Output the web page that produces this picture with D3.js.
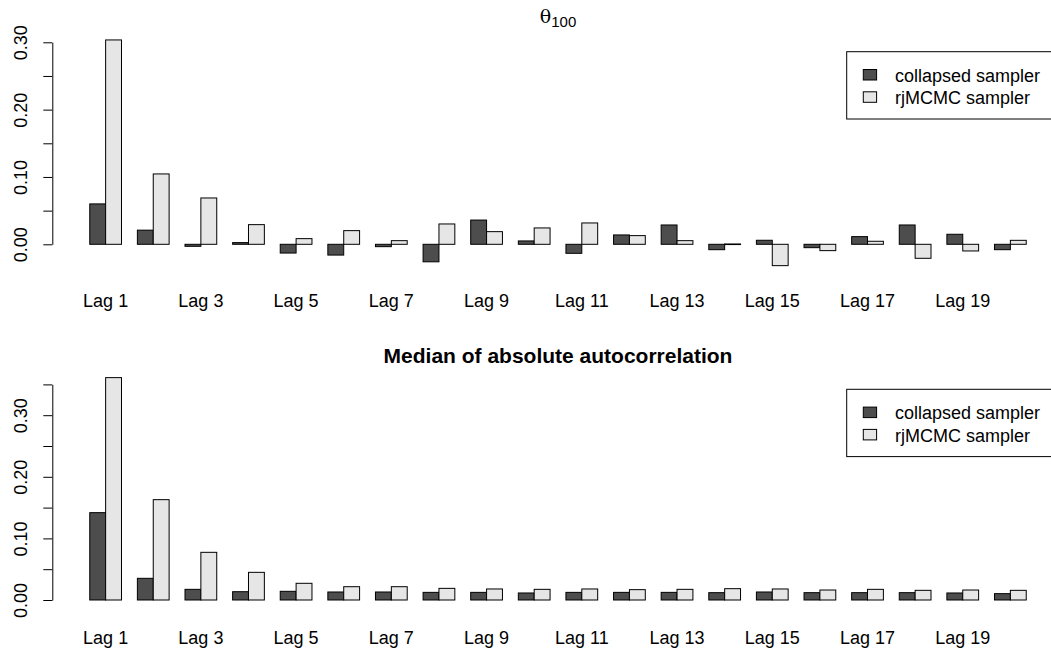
<!DOCTYPE html>
<html>
<head>
<meta charset="utf-8">
<script src="https://cdn.jsdelivr.net/npm/d3@7"></script>
<style>
  html, body { margin: 0; padding: 0; background: #fff; }
  svg { display: block; font-family: "Liberation Sans", Arial, Helvetica, sans-serif; }
</style>
</head>
<body>
<svg id="chart" width="1051" height="653"></svg>
<script>
// ---- data ----
const lags = d3.range(1, 21).map(i => "Lag " + i);
const seriesNames = ["collapsed sampler", "rjMCMC sampler"];

const thetaCollapsed = [0.060, 0.021, -0.003, 0.0025, -0.013, -0.016, -0.0035, -0.026, 0.036, 0.005,
                        -0.0134, 0.0139, 0.0287, -0.008, 0.006, -0.005, 0.0114, 0.0287, 0.0149, -0.008];
const thetaRj = [0.3035, 0.1045, 0.0688, 0.0292, 0.0084, 0.0203, 0.0054, 0.0302, 0.0188, 0.0243,
                 0.0317, 0.0129, 0.0054, 0.0005, -0.0317, -0.0094, 0.0045, -0.0208, -0.0099, 0.0059];

const medCollapsed = [0.1418, 0.0352, 0.0173, 0.0135, 0.0141, 0.0130, 0.0130, 0.0124, 0.0124, 0.0114,
                      0.0124, 0.0124, 0.0124, 0.0119, 0.0130, 0.0119, 0.0119, 0.0119, 0.0114, 0.0103];
const medRj = [0.361, 0.1629, 0.0774, 0.0449, 0.0271, 0.0216, 0.0216, 0.0189, 0.0179, 0.0173,
               0.0179, 0.0168, 0.0173, 0.0184, 0.0179, 0.0162, 0.0173, 0.0157, 0.0162, 0.0157];

const topTicks = [0, 0.05, 0.10, 0.15, 0.20, 0.25, 0.30];
const topTickLabels = [0, 0.10, 0.20, 0.30];
const botTicks = [0, 0.05, 0.10, 0.15, 0.20, 0.25, 0.30, 0.35];
const botTickLabels = [0, 0.10, 0.20, 0.30];

// ---- drawing ----
const colors = ["#4D4D4D", "#E6E6E6"];
const svg = d3.select("#chart");
svg.append("rect").attr("width", 1051).attr("height", 653).attr("fill", "#fff");

// x in barplot units (space = c(0,1)): group g occupies [3g+1, 3g+3]
const x = d3.scaleLinear().domain([-1.36, 62.36]).range([52.3, 1063.7]);

function panel(opts) {
  const g = svg.append("g");
  const y = d3.scaleLinear().domain(opts.yDomain).range(opts.yRange);
  const data = [];
  lags.forEach((lag, i) => {
    [opts.a, opts.b].forEach((vals, s) => {
      data.push({ i, s, v: vals[i] });
    });
  });
  g.selectAll("rect.bar").data(data).enter().append("rect")
    .attr("class", "bar")
    .attr("x", d => x(3 * d.i + 1 + d.s))
    .attr("width", d => x(3 * d.i + 2 + d.s) - x(3 * d.i + 1 + d.s))
    .attr("y", d => Math.min(y(0), y(d.v)))
    .attr("height", d => Math.max(0.6, Math.abs(y(d.v) - y(0))))
    .attr("fill", d => colors[d.s])
    .attr("stroke", "#000")
    .attr("stroke-width", 1);

  // y axis
  const ax = g.append("g").attr("transform", "translate(52.3,0)")
    .call(d3.axisLeft(y).tickValues(opts.ticks).tickSize(9).tickSizeOuter(0)
      .tickFormat(d => opts.labels.some(l => Math.abs(l - d) < 1e-9) ? d3.format(".2f")(d) : ""));
  ax.select(".domain").attr("stroke", "#000");
  ax.selectAll(".tick line").attr("stroke", "#000");
  ax.selectAll(".tick text")
    .attr("transform", "rotate(-90)")
    .attr("x", 0).attr("y", -25.6).attr("dy", 0)
    .attr("text-anchor", "middle")
    .attr("fill", "#000")
    .style("font-size", "18px")
    .style("font-family", '"Liberation Sans", Arial, sans-serif');

  // category labels (every other one fits)
  g.selectAll("text.lag").data(lags.filter((d, i) => i % 2 === 0)).enter().append("text")
    .attr("class", "lag")
    .attr("x", (d, k) => x(3 * (2 * k) + 2))
    .attr("y", opts.labelY)
    .attr("text-anchor", "middle")
    .style("font-size", "18px")
    .text(d => d);

  // legend
  const lg = g.append("g").attr("transform", `translate(846.7,${opts.legendTop})`);
  lg.append("rect").attr("x", 0).attr("y", 0).attr("width", 260).attr("height", 67.3)
    .attr("fill", "#fff").attr("stroke", "#000").attr("stroke-width", 1);
  seriesNames.forEach((name, s) => {
    lg.append("rect").attr("x", 16.6).attr("y", 17.8 + s * 22.3).attr("width", 13.3).attr("height", 10.5)
      .attr("fill", colors[s]).attr("stroke", "#000").attr("stroke-width", 1);
    lg.append("text").attr("x", 48.3).attr("y", 30 + s * 22.3)
      .style("font-size", "18px").text(name);
  });
  return g;
}

panel({ a: thetaCollapsed, b: thetaRj, yDomain: [0, 0.30], yRange: [244.3, 42.3],
        ticks: topTicks, labels: topTickLabels, labelY: 307, legendTop: 51.7 });
panel({ a: medCollapsed, b: medRj, yDomain: [0, 0.35], yRange: [600, 384.4],
        ticks: botTicks, labels: botTickLabels, labelY: 643.5, legendTop: 389.3 });

// titles
const t1 = svg.append("text").attr("x", 558).attr("y", 23).attr("text-anchor", "middle");
t1.append("tspan").style("font-family", '"DejaVu Serif", "Liberation Serif", serif').style("font-size", "19px").text("θ");
t1.append("tspan").attr("dy", 4).style("font-size", "15px").text("100");

svg.append("text").attr("x", 558).attr("y", 363).attr("text-anchor", "middle")
  .style("font-size", "21px").style("font-weight", "bold")
  .text("Median of absolute autocorrelation");
</script>
</body>
</html>
